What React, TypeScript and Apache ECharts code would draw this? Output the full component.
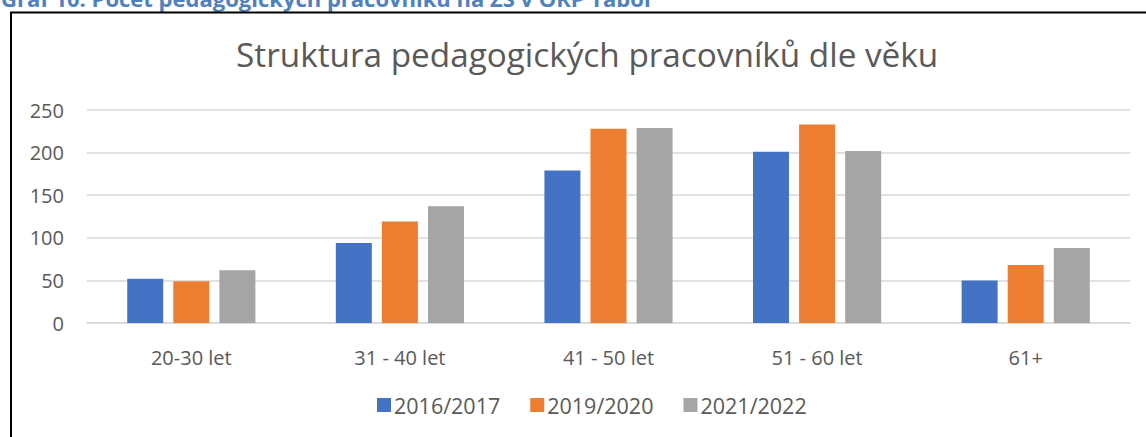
import React, { useEffect, useRef } from "react";
import * as echarts from "echarts";

const categories = ["20-30 let", "31 - 40 let", "41 - 50 let", "51 - 60 let", "61+"];
const seriesNames = ["2016/2017", "2019/2020", "2021/2022"];
const values2016 = [52, 94, 179, 201, 50];
const values2019 = [49, 119, 228, 233, 68];
const values2021 = [62, 137, 229, 202, 88];
const yTicks = { min: 0, max: 250, interval: 50 };
const titleText = "Struktura pedagogických pracovníků dle věku";
const captionText = "Graf 10: Počet pedagogických pracovníků na ZŠ v ORP Tábor";

const colors = ["#4472C4", "#ED7D31", "#A5A5A5"];
const FONT = "'Open Sans', Lato, sans-serif";

export default function App() {
  const ref = useRef<HTMLDivElement>(null);
  useEffect(() => {
    if (!ref.current) return;
    const chart = echarts.init(ref.current, undefined, { renderer: "svg" });
    const data = [values2016, values2019, values2021];
    chart.setOption({
      animation: false,
      backgroundColor: "#ffffff",
      color: colors,
      textStyle: { fontFamily: FONT },
      title: {
        text: titleText,
        left: 231,
        top: 32,
        textStyle: { fontFamily: FONT, fontSize: 33.3, fontWeight: "normal", color: "#595959" },
      },
      graphic: [
        {
          type: "text",
          left: 1,
          top: -13,
          style: {
            text: captionText,
            font: "bold 22px " + FONT,
            fill: "#4F81BD",
          },
        },
        {
          type: "polyline",
          shape: { points: [[11, 437], [11, 12.5], [1146, 12.5]] },
          style: { stroke: "#000000", lineWidth: 2, fill: "none" },
        },
      ],
      legend: {
        bottom: 16,
        left: 372,
        itemWidth: 14,
        itemHeight: 14,
        itemGap: 30,
        icon: "rect",
        textStyle: { fontFamily: FONT, fontSize: 21.5, color: "#595959", padding: [0, 0, 0, -2] },
        data: seriesNames,
      },
      grid: { left: 87, right: 16, top: 110, bottom: 114, containLabel: false },
      xAxis: {
        type: "category",
        data: categories,
        axisLine: { show: true, lineStyle: { color: "#d9d9d9", width: 1.5 } },
        axisTick: { show: false },
        axisLabel: { fontFamily: FONT, fontSize: 20, color: "#595959", margin: 24 },
      },
      yAxis: {
        type: "value",
        min: yTicks.min,
        max: yTicks.max,
        interval: yTicks.interval,
        axisLine: { show: false },
        axisTick: { show: false },
        splitLine: { lineStyle: { color: "#d9d9d9", width: 1.5 } },
        axisLabel: { fontFamily: FONT, fontSize: 20, color: "#595959", margin: 23 },
      },
      series: seriesNames.map((name, i) => ({
        name,
        type: "bar",
        data: data[i],
        barWidth: 36,
        barGap: "28%",
        itemStyle: { color: colors[i] },
      })),
    });
    return () => chart.dispose();
  }, []);
  return (
    <div
      ref={ref}
      style={{ position: "fixed", left: 0, top: 0, width: 1146, height: 437, background: "#fff" }}
    />
  );
}
